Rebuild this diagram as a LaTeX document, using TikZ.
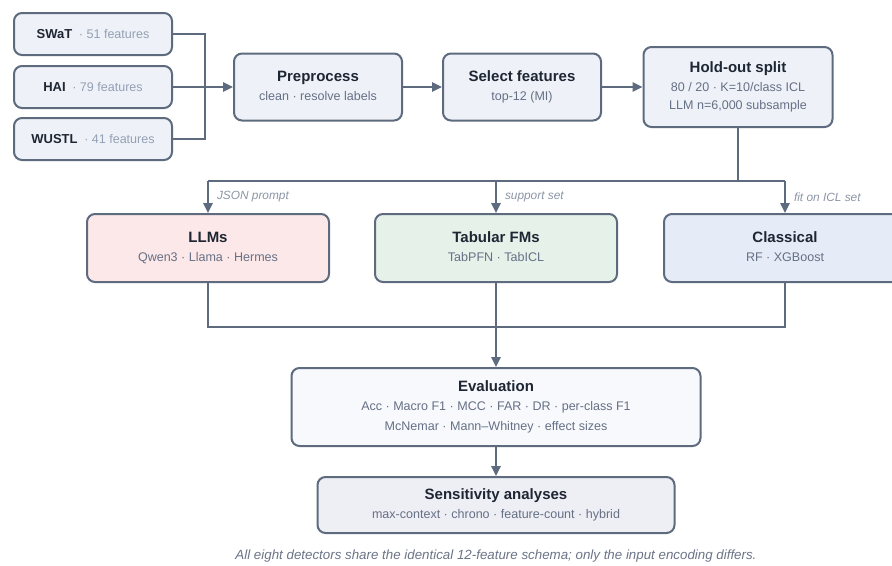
\documentclass[tikz,border=0pt]{standalone}
\usepackage{fontspec}
\setmainfont{Liberation Sans}
\usetikzlibrary{arrows.meta}
\definecolor{edge}{HTML}{5E6A7D}
\definecolor{boxfill}{HTML}{EEF2F8}
\definecolor{llmfill}{HTML}{FCE8E8}
\definecolor{tabfill}{HTML}{E6F1EA}
\definecolor{clsfill}{HTML}{E5ECF7}
\definecolor{evalfill}{HTML}{F7F9FC}
\definecolor{sensfill}{HTML}{EEEEF5}
\definecolor{titletxt}{HTML}{1F2633}
\definecolor{subtxt}{HTML}{667085}
\definecolor{dimtxt}{HTML}{94A0B4}
\definecolor{labtxt}{HTML}{8C96A8}
\definecolor{captxt}{HTML}{6B7487}
\newcommand{\ttl}[1]{{\fontsize{11.25pt}{14pt}\selectfont\bfseries\color{titletxt}\vphantom{Ay}#1}}
\newcommand{\sbt}[1]{{\fontsize{9.4pt}{13pt}\selectfont\color{subtxt}\vphantom{Ay}#1}}
\tikzset{
  box/.style={draw=edge, line width=1.5pt, rounded corners=6pt, fill=boxfill,
    align=center, inner sep=0pt},
  dset/.style={box, minimum width=158*0.75pt, minimum height=42*0.75pt},
  conn/.style={draw=edge, line width=1.5pt},
  arr/.style={conn, -{Triangle[length=7.5pt,width=7pt]}},
  lab/.style={font=\fontsize{8.9pt}{10pt}\selectfont\itshape, text=labtxt, anchor=west, inner sep=0pt},
}
\begin{document}
\begin{tikzpicture}[x=0.75pt, y=-0.75pt]
\clip (0,0) rectangle (892,565);
\fill[white] (0,0) rectangle (892,565);
% datasets
\node[dset] (swat) at (93,34) {{\fontsize{9.75pt}{12pt}\selectfont\bfseries\color{titletxt}SWaT}\hspace{5pt}{\fontsize{9.4pt}{12pt}\selectfont\color{dimtxt}· 51 features}};
\node[dset] (hai) at (93,87) {{\fontsize{9.75pt}{12pt}\selectfont\bfseries\color{titletxt}HAI}\hspace{5pt}{\fontsize{9.4pt}{12pt}\selectfont\color{dimtxt}· 79 features}};
\node[dset] (wustl) at (93,139) {{\fontsize{9.75pt}{12pt}\selectfont\bfseries\color{titletxt}WUSTL}\hspace{5pt}{\fontsize{9.4pt}{12pt}\selectfont\color{dimtxt}· 41 features}};
% pipeline
\node[box, minimum width=168*0.75pt, minimum height=67*0.75pt] (pre) at (318,87)
  {\ttl{Preprocess}\\[2.5pt]\sbt{clean · resolve labels}};
\node[box, minimum width=158*0.75pt, minimum height=67*0.75pt] (sel) at (522,87)
  {\ttl{Select features}\\[2.5pt]\sbt{top-12 (MI)}};
\node[box, minimum width=189*0.75pt, minimum height=80*0.75pt] (hold) at (738,87)
  {\ttl{Hold-out split}\\[2.5pt]\sbt{80 / 20 · K=10/class ICL}\\[1.5pt]\sbt{LLM n=6,000 subsample}};
% model families
\node[box, fill=llmfill, minimum width=242*0.75pt, minimum height=68*0.75pt] (llm) at (208,248)
  {\ttl{LLMs}\\[2.5pt]\sbt{Qwen3 · Llama · Hermes}};
\node[box, fill=tabfill, minimum width=242*0.75pt, minimum height=68*0.75pt] (tab) at (496,248)
  {\ttl{Tabular FMs}\\[2.5pt]\sbt{TabPFN · TabICL}};
\node[box, fill=clsfill, minimum width=242*0.75pt, minimum height=68*0.75pt] (cls) at (785,248)
  {\ttl{Classical}\\[2.5pt]\sbt{RF · XGBoost}};
% evaluation
\node[box, fill=evalfill, minimum width=409*0.75pt, minimum height=78*0.75pt] (eval) at (496,407)
  {\ttl{Evaluation}\\[2.25pt]\sbt{Acc · Macro F1 · MCC · FAR · DR · per-class F1}\\[2.5pt]\sbt{McNemar · Mann–Whitney · effect sizes}};
\node[box, fill=sensfill, minimum width=357*0.75pt, minimum height=56*0.75pt] (sens) at (496,505)
  {\ttl{Sensitivity analyses}\\[2pt]\sbt{max-context · chrono · feature-count · hybrid}};
\node[font=\fontsize{10pt}{12pt}\selectfont\itshape, text=captxt] (cap) at (496,556)
  {All eight detectors share the identical 12-feature schema; only the input encoding differs.};
% connectors: datasets to preprocess
\coordinate (j) at (205,87);
\draw[conn] (swat.east) -| (j) |- (wustl.east);
\draw[arr] (hai.east) -- (pre.west);
\draw[arr] (pre.east) -- (sel.west);
\draw[arr] (sel.east) -- (hold.west);
% fan-out
\coordinate (s) at (738,181);
\draw[conn] (hold.south) -- (s);
\draw[conn] (llm.north |- s) -- (cls.north |- s);
\draw[arr] (llm.north |- s) -- (llm.north) node[lab, pos=0.5, xshift=6pt] {JSON prompt};
\draw[arr] (tab.north |- s) -- (tab.north) node[lab, pos=0.5, xshift=6pt] {support set};
\draw[arr] (cls.north |- s) -- (cls.north) node[lab, pos=0.5, xshift=6pt] {fit on ICL set};
% fan-in
\coordinate (b) at (496,327);
\draw[conn] (llm.south) |- (b) -| (cls.south);
\draw[arr] (tab.south) -- (eval.north);
\draw[arr] (eval.south) -- (sens.north);
\end{tikzpicture}
\end{document}
